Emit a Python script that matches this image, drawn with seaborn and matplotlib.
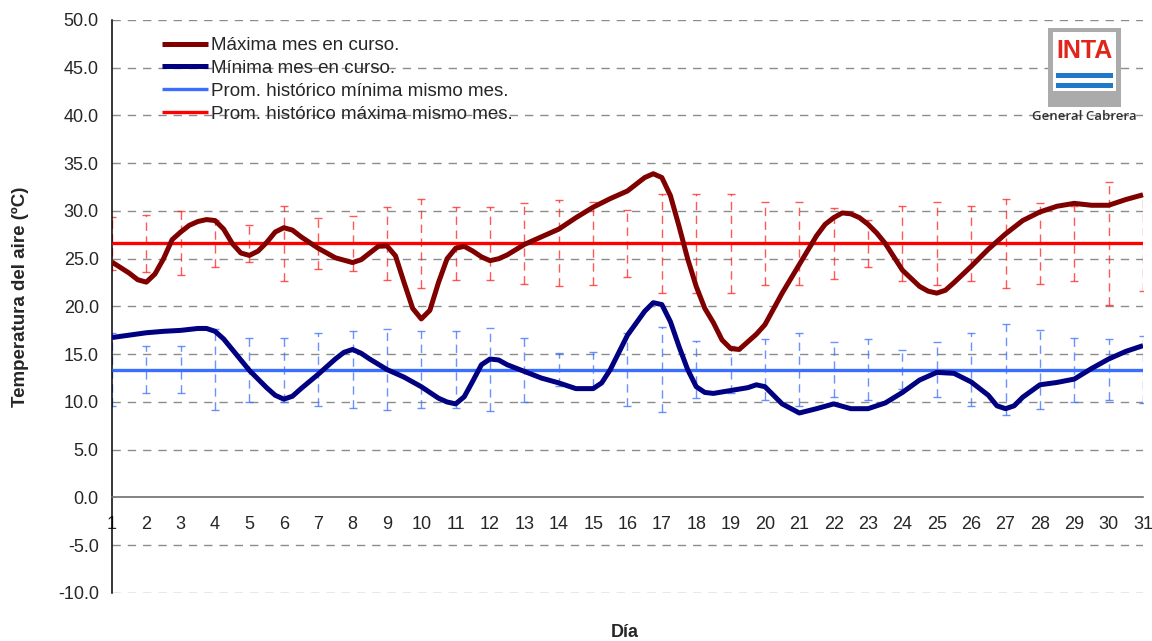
"""
Temperatura del aire diaria - General Cabrera (INTA)
máximas / mínimas del mes en curso contra promedios históricos
"""
import matplotlib
matplotlib.use("Agg")
import matplotlib.pyplot as plt
from matplotlib.patches import Rectangle
import seaborn as sns

# días del mes (eje x)
DAYS = list(range(1, 32))

# temperatura máxima del mes en curso (lecturas del gráfico)
MAX_X = [1, 1.5, 1.75, 2, 2.25, 2.5, 2.75, 3, 3.25, 3.5, 3.75, 4, 4.25, 4.5, 4.75, 5, 5.25,
         5.5, 5.75, 6, 6.25, 6.5, 7, 7.5, 8, 8.25, 8.5, 8.75, 9, 9.25, 9.5, 9.75, 10, 10.25,
         10.5, 10.75, 11, 11.25, 11.5, 11.75, 12, 12.25, 12.5, 13, 13.5, 14, 14.5, 15, 15.5,
         16, 16.25, 16.5, 16.75, 17, 17.25, 17.5, 17.75, 18, 18.25, 18.5, 18.75, 19, 19.25,
         19.5, 19.75, 20, 20.5, 21, 21.5, 21.75, 22, 22.25, 22.5, 22.75, 23, 23.25, 23.5, 24,
         24.5, 24.75, 25, 25.25, 25.5, 26, 26.5, 27, 27.5, 28, 28.5, 29, 29.5, 30, 30.5, 31]
MAX_Y = [24.65, 23.5, 22.8, 22.55, 23.4, 25.0, 27.0, 27.8, 28.5, 28.9, 29.1, 29.0, 28.1,
         26.6, 25.6, 25.35, 25.8, 26.7, 27.8, 28.25, 28.0, 27.3, 26.1, 25.1, 24.6, 24.9,
         25.6, 26.3, 26.35, 25.3, 22.5, 19.8, 18.7, 19.6, 22.5, 25.0, 26.1, 26.3, 25.8,
         25.2, 24.8, 25.0, 25.4, 26.5, 27.3, 28.1, 29.3, 30.4, 31.3, 32.1, 32.8, 33.5, 33.9,
         33.5, 31.6, 28.4, 25.0, 22.1, 19.8, 18.3, 16.5, 15.6, 15.5, 16.3, 17.1, 18.1, 21.4,
         24.4, 27.4, 28.6, 29.3, 29.8, 29.7, 29.3, 28.6, 27.7, 26.6, 23.8, 22.1, 21.6, 21.4,
         21.7, 22.5, 24.2, 26.0, 27.6, 29.0, 29.9, 30.5, 30.8, 30.6, 30.6, 31.2, 31.7]

# temperatura mínima del mes en curso
MIN_X = [1, 1.5, 2, 2.5, 3, 3.5, 3.75, 4, 4.25, 4.5, 5, 5.5, 5.75, 6, 6.25, 6.5, 7, 7.5,
         7.75, 8, 8.25, 8.5, 9, 9.5, 10, 10.5, 10.75, 11, 11.25, 11.5, 11.75, 12, 12.25,
         12.5, 13, 13.5, 14, 14.5, 15, 15.25, 15.5, 16, 16.5, 16.75, 17, 17.25, 17.5, 17.75,
         18, 18.25, 18.5, 19, 19.5, 19.75, 20, 20.5, 21, 21.5, 22, 22.5, 23, 23.5, 24, 24.5,
         25, 25.5, 26, 26.5, 26.75, 27, 27.25, 27.5, 28, 28.5, 29, 29.5, 30, 30.5, 31]
MIN_Y = [16.75, 17.0, 17.25, 17.4, 17.5, 17.7, 17.7, 17.4, 16.6, 15.5, 13.3, 11.5, 10.7,
         10.3, 10.6, 11.4, 12.9, 14.5, 15.2, 15.5, 15.1, 14.5, 13.4, 12.6, 11.6, 10.4, 10.0,
         9.8, 10.55, 12.2, 13.9, 14.5, 14.4, 13.9, 13.2, 12.5, 12.0, 11.4, 11.4, 12.0, 13.4,
         17.0, 19.5, 20.4, 20.2, 18.4, 15.8, 13.4, 11.6, 11.0, 10.9, 11.2, 11.5, 11.8, 11.6,
         9.8, 8.85, 9.3, 9.8, 9.3, 9.3, 9.9, 11.0, 12.3, 13.1, 13.0, 12.1, 10.7, 9.6, 9.3,
         9.6, 10.5, 11.8, 12.05, 12.4, 13.5, 14.5, 15.3, 15.9]

# promedios históricos y su dispersión diaria (+/-)
HIST_MAX = 26.6
HIST_MIN = 13.4
HIST_MAX_ERR = [2.8, 3.0, 3.35, 2.5, 1.9, 3.9, 2.7, 2.9, 3.8, 4.65, 3.8, 3.8, 4.2, 4.5, 4.3, 3.5,
                5.15, 5.15, 5.15, 4.3, 4.3, 3.7, 2.5, 3.95, 4.3, 3.95, 4.65, 4.2, 3.9, 6.4, 5.0]
HIST_MIN_ERR = [3.85, 2.5, 2.5, 4.2, 3.35, 3.35, 3.85, 4.0, 4.2, 4.0, 4.0, 4.3, 3.35, 1.75, 1.85,
                3.85, 4.5, 3.0, 2.5, 3.15, 3.8, 2.85, 3.2, 2.05, 2.85, 3.8, 4.8, 4.1, 3.35, 3.2, 3.5]

Y_TICKS = [-10, -5, 0, 5, 10, 15, 20, 25, 30, 35, 40, 45, 50]

assert len(MAX_X) == len(MAX_Y) and len(MIN_X) == len(MIN_Y)

sns.set_style("white")
plt.rcParams['font.family'] = ['Liberation Sans', 'DejaVu Sans']
plt.rcParams['axes.unicode_minus'] = False
plt.rcParams['lines.scale_dashes'] = False

fig = plt.figure(figsize=(11.52, 6.41), dpi=100)
ax = fig.add_axes([0.0972, 0.0749, 0.895, 0.8939])

# barras de dispersión de los promedios históricos
hist_max_line = [HIST_MAX] * len(DAYS)
hist_min_line = [HIST_MIN] * len(DAYS)
eb = ax.errorbar(DAYS, hist_max_line, yerr=HIST_MAX_ERR, fmt='none', ecolor='#ff2020',
                 elinewidth=1.0, capsize=3.2, capthick=1.0, alpha=0.75, zorder=2)
eb[2][0].set_linestyle((0, (6, 4)))
eb = ax.errorbar(DAYS, hist_min_line, yerr=HIST_MIN_ERR, fmt='none', ecolor='#3a6eff',
                 elinewidth=1.0, capsize=3.2, capthick=1.0, alpha=0.75, zorder=2)
eb[2][0].set_linestyle((0, (6, 4)))

# series
sns.lineplot(x=MAX_X, y=MAX_Y, ax=ax, color='#800000', linewidth=3.6,
             label='Máxima mes en curso.', sort=False, zorder=5)
sns.lineplot(x=MIN_X, y=MIN_Y, ax=ax, color='#000080', linewidth=3.6,
             label='Mínima mes en curso.', sort=False, zorder=5)
sns.lineplot(x=DAYS, y=hist_min_line, ax=ax, color='#3a6eff', linewidth=2.4,
             label='Prom. histórico mínima mismo mes.', zorder=4)
sns.lineplot(x=DAYS, y=hist_max_line, ax=ax, color='#ff0000', linewidth=2.4,
             label='Prom. histórico máxima mismo mes.', zorder=4)

for ln in ax.lines:
    ln.set_solid_capstyle('butt')
    ln.set_solid_joinstyle('round')

ax.set_xlim(1, 31)
ax.set_ylim(-10, 50)
ax.set_xticks(DAYS)
ax.set_xticklabels([str(d) for d in DAYS])
ax.set_yticks(Y_TICKS)
ax.set_yticklabels([f"{v:.1f}" for v in Y_TICKS])

# grilla horizontal punteada
for v in Y_TICKS:
    if v != 0:
        ax.axhline(v, color='#8c8c8c', linewidth=1.0, linestyle=(0, (6, 5)), zorder=1)

for side in ['top', 'right']:
    ax.spines[side].set_visible(False)
ax.spines['left'].set_color('black')
ax.spines['left'].set_linewidth(1.1)
ax.spines['bottom'].set_position(('data', 0))
ax.spines['bottom'].set_color('#6e6e6e')
ax.spines['bottom'].set_linewidth(1.2)
ax.spines['bottom'].set_zorder(3)

ax.tick_params(axis='y', direction='out', length=4.5, width=1, color='black',
               labelsize=13, pad=5)
ax.tick_params(axis='x', direction='out', length=4.5, width=1, color='#6e6e6e',
               labelsize=13, pad=9)
ax.set_xlabel('')
ax.set_ylabel('')

fig.text(0.0174, 0.537, 'Temperatura del aire (ºC)', rotation=90, ha='center', va='center',
         fontsize=13.5, fontweight='bold')
fig.text(0.5425, 0.014, 'Día', ha='center', va='center', fontsize=13, fontweight='bold')

ax.legend(loc='upper left', bbox_to_anchor=(0.1406, 0.942), bbox_transform=fig.transFigure,
          frameon=False, fontsize=13.5, handlelength=2.45, handletextpad=0.18,
          labelspacing=0.3, borderpad=0, borderaxespad=0)

# logo INTA
fig.add_artist(Rectangle((0.9097, 0.8331), 0.0634, 0.1232, transform=fig.transFigure,
                         facecolor='#ababab', edgecolor='none', zorder=6))
fig.add_artist(Rectangle((0.9141, 0.858), 0.0547, 0.092, transform=fig.transFigure,
                         facecolor='white', edgecolor='none', zorder=7))
fig.add_artist(Rectangle((0.9167, 0.8783), 0.0495, 0.0078, transform=fig.transFigure,
                         facecolor='#1f78c8', edgecolor='none', zorder=8))
fig.add_artist(Rectangle((0.9167, 0.8627), 0.0495, 0.0078, transform=fig.transFigure,
                         facecolor='#1f78c8', edgecolor='none', zorder=8))
fig.text(0.9414, 0.92, 'INTA', ha='center', va='center', fontsize=18, fontweight='bold',
         color='#e0261c', family=['Liberation Sans Narrow', 'Liberation Sans', 'DejaVu Sans'],
         zorder=9)
fig.text(0.941, 0.8175, 'General Cabrera', ha='center', va='center', fontsize=9.5,
         color='#333333', family=['Open Sans', 'DejaVu Sans'], fontweight='semibold', zorder=9)

fig.savefig('out.png', dpi=100)
